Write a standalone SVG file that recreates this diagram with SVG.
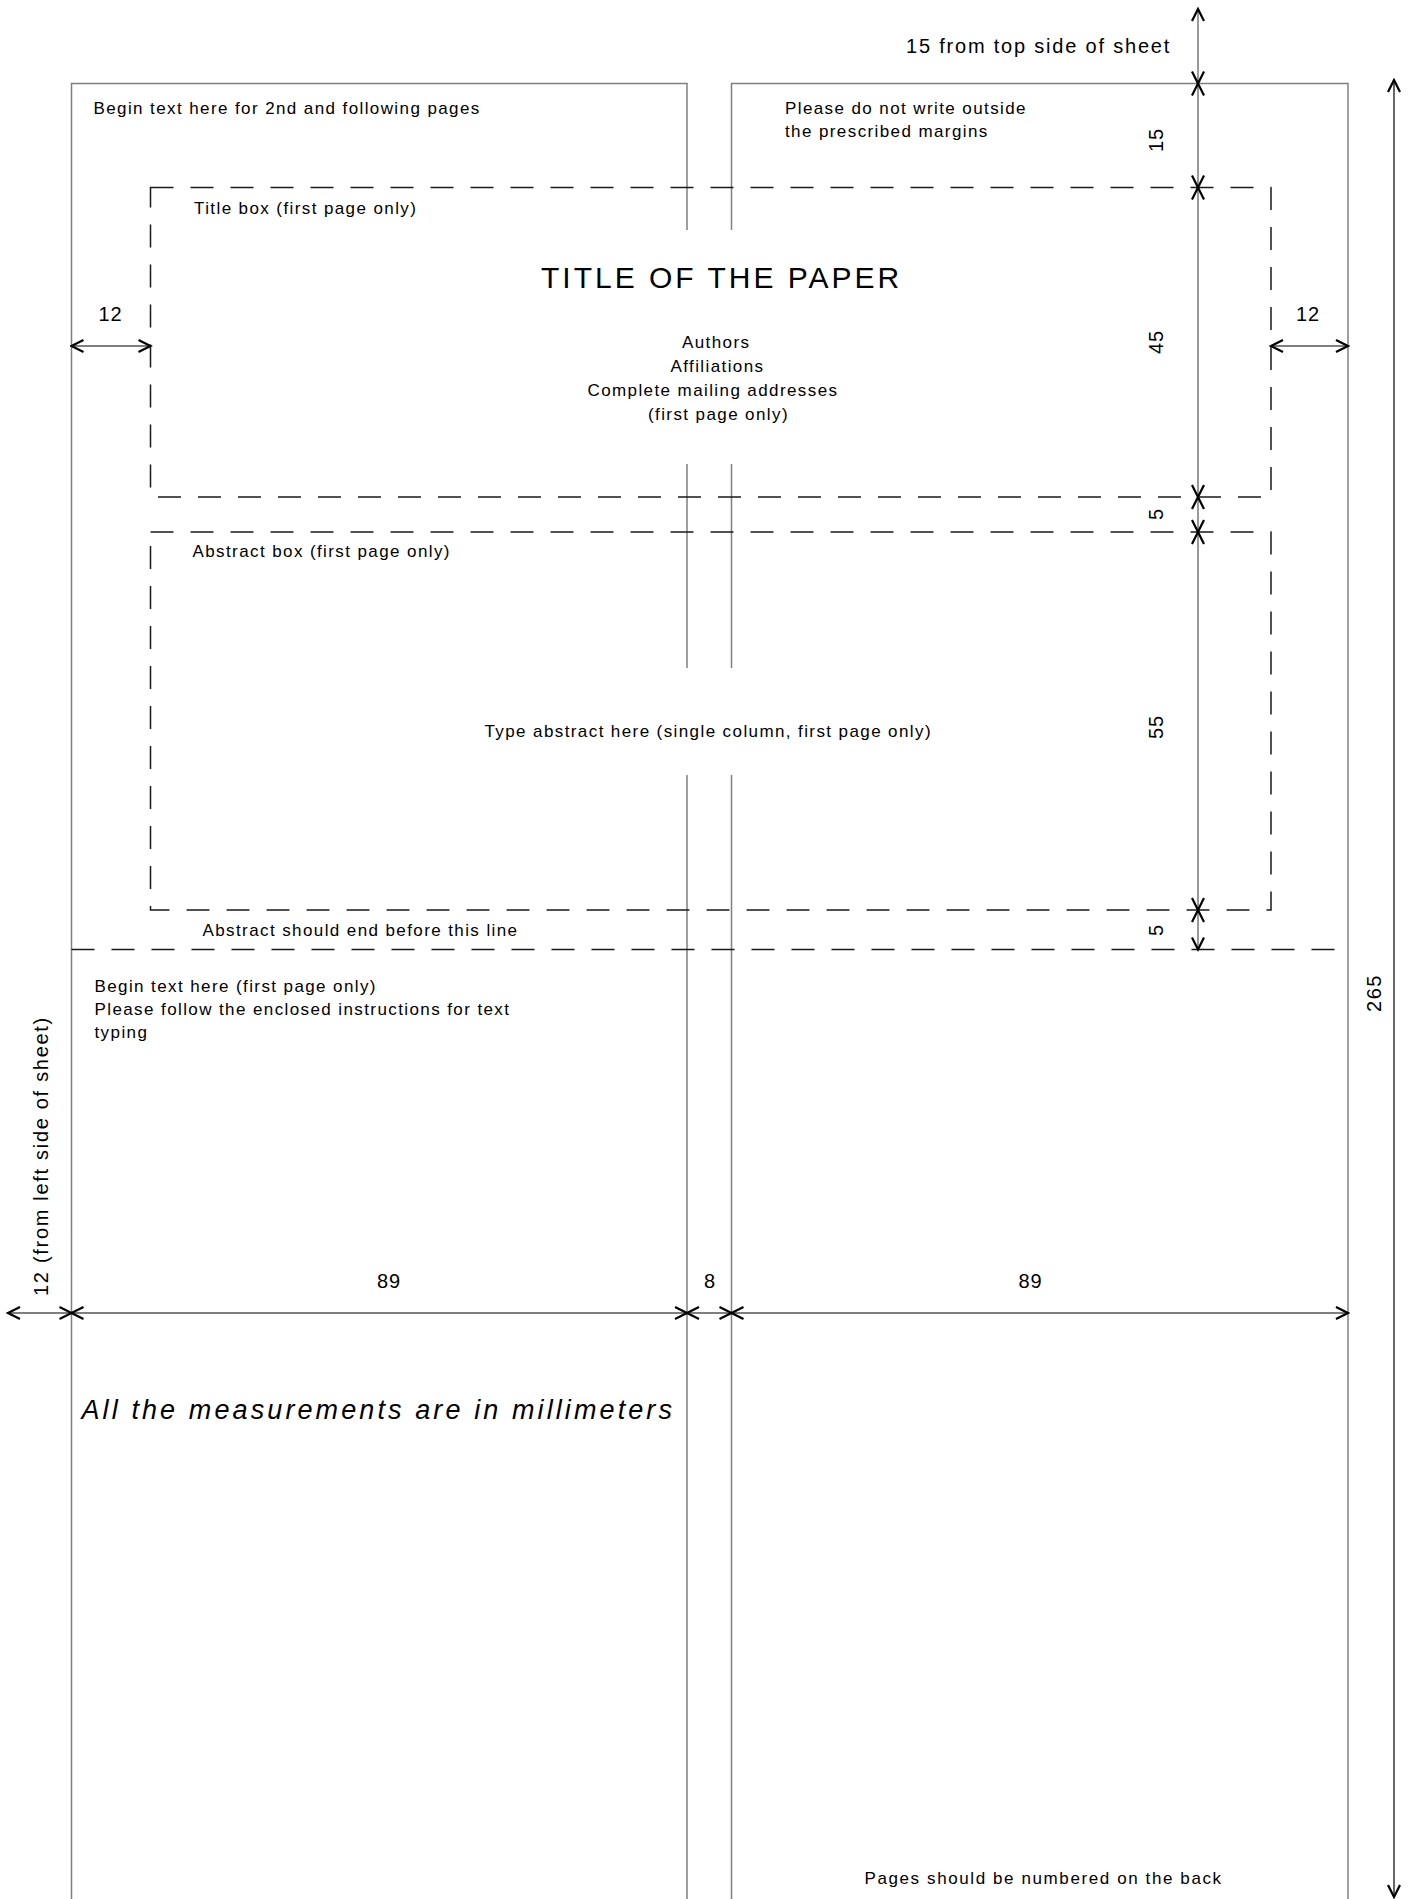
<svg xmlns="http://www.w3.org/2000/svg" width="1412" height="1899" viewBox="0 0 1412 1899">
<style>
.col{fill:none;stroke:#808080;stroke-width:1.5}
.dash{fill:none;stroke:#1a1a1a;stroke-width:1.5;stroke-dasharray:23 17}
.dim{fill:none;stroke:#000;stroke-width:1.2;marker-start:url(#ah);marker-end:url(#ah)}
.dimg{fill:none;stroke:#555;stroke-width:1.2;marker-start:url(#ah);marker-end:url(#ah)}
text{font-family:"Liberation Sans",Arial,sans-serif;fill:#000}
.s{font-size:17px;letter-spacing:1.4px}
.n{font-size:20px;letter-spacing:0.8px}
.m{font-size:20px;letter-spacing:1.8px}
</style>
<defs>
<marker id="ah" markerUnits="userSpaceOnUse" viewBox="-14 -8 16 16" refX="0" refY="0" markerWidth="16" markerHeight="16" orient="auto-start-reverse">
<path d="M-12,-6 L0,0 L-12,6" fill="none" stroke="#000" stroke-width="2.2"/>
</marker>
</defs>
<rect width="1412" height="1899" fill="#fff"/>

<g id="left-column">
<path class="col" d="M71.5,1899 V83.5 H687 V230 M687,464 V668 M687,775 V1899"/>
<text class="s" x="93.5" y="114">Begin text here for 2nd and following pages</text>
<text class="s" x="94.5" y="992">Begin text here (first page only)</text>
<text class="s" x="94.5" y="1015">Please follow the enclosed instructions for text</text>
<text class="s" x="94.5" y="1038">typing</text>
</g>

<g id="right-column">
<path class="col" d="M731.5,230 V83.5 H1348 V1899 M731.5,464 V668 M731.5,775 V1899"/>
<text class="s" x="785" y="114">Please do not write outside</text>
<text class="s" x="785" y="137">the prescribed margins</text>
<text class="s" x="864.5" y="1884" style="letter-spacing:1.6px">Pages should be numbered on the back</text>
</g>

<g id="title-box">
<rect class="dash" x="150.5" y="187.5" width="1120.5" height="309.5"/>
<text class="s" x="194" y="214">Title box (first page only)</text>
<text x="541" y="288" style="font-size:30px;letter-spacing:3px">TITLE OF THE PAPER</text>
<text class="s" x="682" y="348">Authors</text>
<text class="s" x="670.5" y="372">Affiliations</text>
<text class="s" x="587.5" y="396">Complete mailing addresses</text>
<text class="s" x="648" y="420">(first page only)</text>
</g>

<g id="abstract-box">
<rect class="dash" x="150.5" y="532" width="1120.5" height="378"/>
<text class="s" x="192.5" y="557">Abstract box (first page only)</text>
<text class="s" x="484.5" y="737">Type abstract here (single column, first page only)</text>
</g>

<g id="abstract-limit">
<line class="dash" x1="71.5" y1="949.5" x2="1344" y2="949.5"/>
<text class="s" x="202.5" y="936">Abstract should end before this line</text>
</g>

<g id="note">
<text x="81.5" y="1419" style="font-size:27px;font-style:italic;letter-spacing:3.1px">All the measurements are in millimeters</text>
</g>

<g id="connectors">
<line class="dimg" x1="1198" y1="9" x2="1198" y2="83.5"/>
<line class="dimg" x1="1198" y1="83.5" x2="1198" y2="187.5"/>
<line class="dimg" x1="1198" y1="187.5" x2="1198" y2="497"/>
<line class="dimg" x1="1198" y1="497" x2="1198" y2="532"/>
<line class="dimg" x1="1198" y1="532" x2="1198" y2="910"/>
<line class="dimg" x1="1198" y1="910" x2="1198" y2="949.5"/>
<line class="dim" x1="8" y1="1313" x2="71.5" y2="1313"/>
<line class="dim" x1="71.5" y1="1313" x2="687" y2="1313"/>
<line class="dim" x1="687" y1="1313" x2="731.5" y2="1313"/>
<line class="dim" x1="731.5" y1="1313" x2="1348" y2="1313"/>
<line class="dim" x1="71.5" y1="346" x2="150.5" y2="346"/>
<line class="dim" x1="1271" y1="346" x2="1348" y2="346"/>
<line class="dim" x1="1394" y1="80" x2="1394" y2="1897"/>
</g>

<g id="dimension-labels">
<text class="m" x="906" y="53">15 from top side of sheet</text>
<text class="n" x="110.5" y="321" text-anchor="middle">12</text>
<text class="n" x="1308" y="321" text-anchor="middle">12</text>
<text class="n" transform="translate(1163,140) rotate(-90)" text-anchor="middle">15</text>
<text class="n" transform="translate(1163,342) rotate(-90)" text-anchor="middle">45</text>
<text class="n" transform="translate(1163,514) rotate(-90)" text-anchor="middle">5</text>
<text class="n" transform="translate(1163,727) rotate(-90)" text-anchor="middle">55</text>
<text class="n" transform="translate(1163,930) rotate(-90)" text-anchor="middle">5</text>
<text class="n" transform="translate(1381,993) rotate(-90)" text-anchor="middle" style="letter-spacing:1.5px">265</text>
<text class="m" transform="translate(47.5,1296) rotate(-90)" style="letter-spacing:1.7px">12 (from left side of sheet)</text>
<text class="n" x="389" y="1288" text-anchor="middle">89</text>
<text class="n" x="710" y="1288" text-anchor="middle">8</text>
<text class="n" x="1030.5" y="1288" text-anchor="middle">89</text>
</g>
</svg>
